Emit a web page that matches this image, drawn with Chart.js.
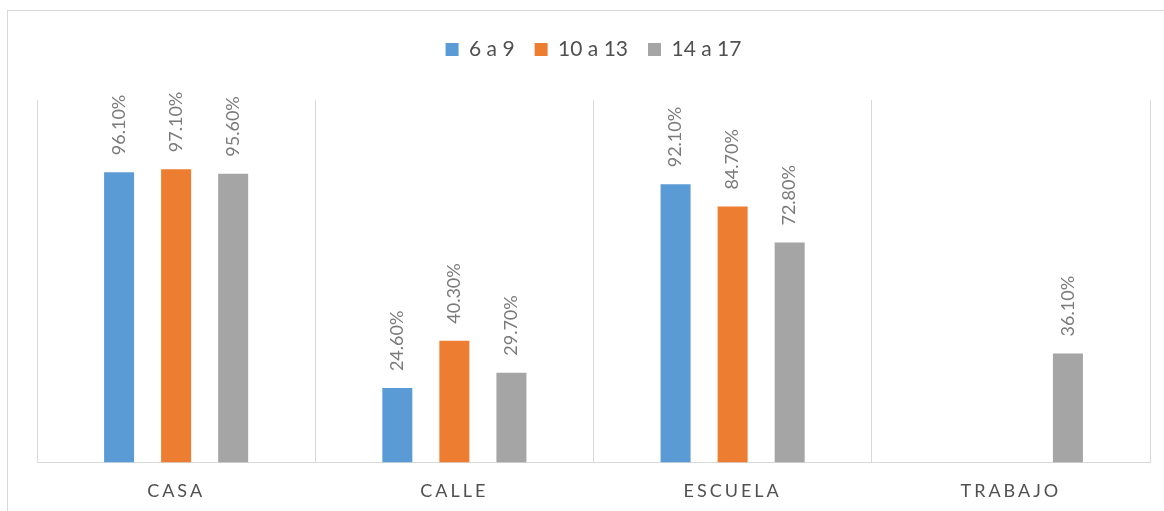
<!DOCTYPE html>
<html>
<head>
<meta charset="utf-8">
<script src="https://cdn.jsdelivr.net/npm/chart.js@4"></script>
<style>
  body { margin: 0; background: #fff; }
  #frame { position: absolute; left: 7px; top: 10px; width: 1180px; height: 520px; border: 1px solid #d9d9d9; }
  #wrap { position: absolute; left: 0; top: 0; width: 1164px; height: 511px; }
</style>
</head>
<body>
<div id="frame"></div>
<div id="wrap"><canvas id="myChart"></canvas></div>
<script>
const lugares = ['CASA', 'CALLE', 'ESCUELA', 'TRABAJO'];
const edad6a9 = [96.1, 24.6, 92.1, null];
const edad10a13 = [97.1, 40.3, 84.7, null];
const edad14a17 = [95.6, 29.7, 72.8, 36.1];

// x labels with letter spacing like the original
class SpacedCategory extends Chart.CategoryScale {
  drawLabels(area) {
    const ctx = this.ctx;
    ctx.save();
    ctx.letterSpacing = '3px';
    super.drawLabels(area);
    ctx.restore();
  }
}
SpacedCategory.id = 'spacedCategory';
SpacedCategory.defaults = Chart.CategoryScale.defaults;
Chart.register(SpacedCategory);

// extra room under the legend
const legendGap = {
  id: 'legendGap',
  beforeInit(chart) {
    const fit = chart.legend.fit;
    chart.legend.fit = function () {
      fit.bind(chart.legend)();
      this.height += 30;
    };
  }
};

// rotated value labels above bars
const valueLabels = {
  id: 'valueLabels',
  afterDatasetsDraw(chart) {
    const ctx = chart.ctx;
    ctx.save();
    ctx.font = '18px Lato';
    ctx.fillStyle = '#7a7a7a';
    ctx.textAlign = 'left';
    ctx.textBaseline = 'middle';
    chart.data.datasets.forEach((ds, i) => {
      chart.getDatasetMeta(i).data.forEach((bar, j) => {
        const v = ds.data[j];
        if (v == null) return;
        ctx.save();
        ctx.translate(bar.x, bar.y - 17);
        ctx.rotate(-Math.PI / 2);
        ctx.fillText(v.toFixed(2) + '%', 0, 0);
        ctx.restore();
      });
    });
    ctx.restore();
  }
};

const data = {
  labels: lugares,
  datasets: [
    { label: '6 a 9', data: edad6a9, backgroundColor: '#5b9bd5' },
    { label: '10 a 13', data: edad10a13, backgroundColor: '#ed7d31' },
    { label: '14 a 17', data: edad14a17, backgroundColor: '#a5a5a5' }
  ]
};

const config = {
  type: 'bar',
  data: data,
  plugins: [legendGap, valueLabels],
  options: {
    responsive: true,
    maintainAspectRatio: false,
    animation: false,
    datasets: { bar: { categoryPercentage: 0.615, barPercentage: 0.526 } },
    layout: { padding: { left: 37, right: 14, top: 19, bottom: -9 } },
    plugins: {
      tooltip: { enabled: false },
      legend: {
        position: 'top',
        labels: {
          boxWidth: 13,
          boxHeight: 13,
          padding: 20,
          color: '#505050',
          font: { family: 'Lato', size: 21 }
        }
      }
    },
    scales: {
      x: {
        type: 'spacedCategory',
        grid: { color: '#d9d9d9', offset: true, drawTicks: false },
        border: { color: '#d9d9d9' },
        ticks: { color: '#505050', padding: 18, font: { family: 'Lato', size: 18 } }
      },
      y: { display: false, min: 0, max: 120 }
    }
  }
};

const myChart = new Chart(document.getElementById('myChart'), config);
</script>
</body>
</html>
